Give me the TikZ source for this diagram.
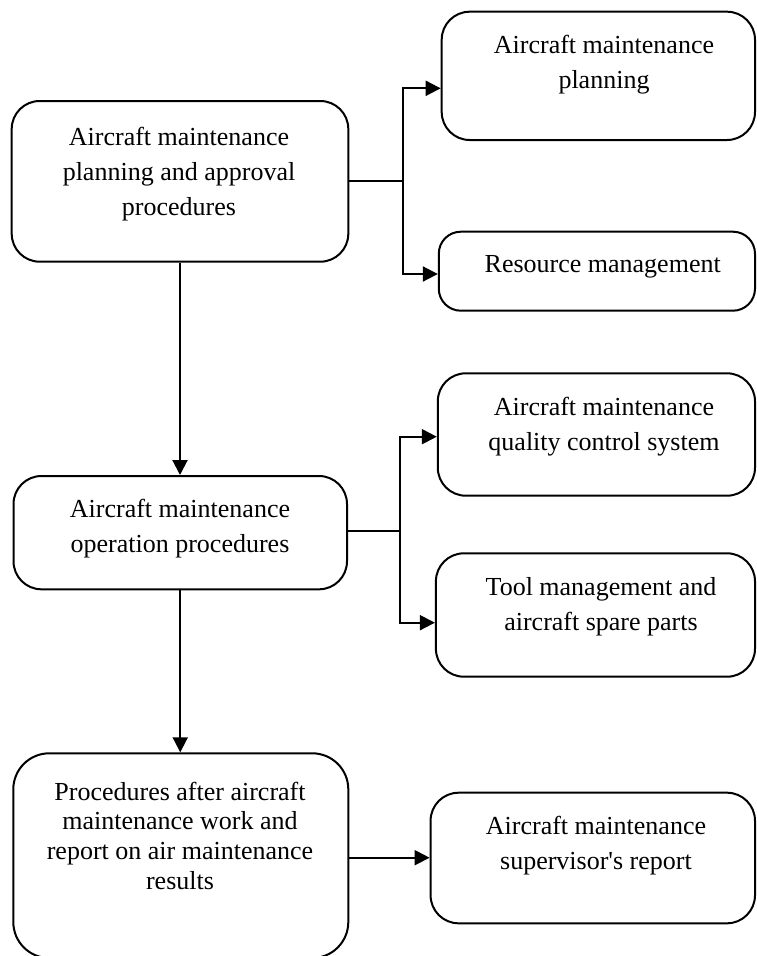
\documentclass[tikz,border=0pt]{standalone}
\usepackage{fontspec}
\setmainfont{Liberation Serif}[Ligatures=TeXOff]
\usetikzlibrary{arrows.meta}
\newcommand\tlines[2]{\fontsize{26}{#1}\selectfont\begin{tabular}[t]{@{}c@{}}#2\end{tabular}}
\begin{document}
\begin{tikzpicture}[x=1pt,y=-1pt,
  box/.style={draw,line width=2pt,rounded corners=28pt,inner sep=0pt},
  txt/.style={anchor=base,inner sep=0pt},
  conn/.style={line width=2pt},
  arr/.style={line width=2pt,-{Triangle[length=15pt,width=15pt]}}]
\useasboundingbox (0,0) rectangle (756,956);
% boxes
\node[box,minimum width=336.6pt,minimum height=160.7pt] (A) at (180,181.35) {};
\node[box,minimum width=313.3pt,minimum height=128.3pt] (B) at (598.35,75.85) {};
\node[box,minimum width=316.2pt,minimum height=79pt,rounded corners=22pt] (C) at (596.9,271.2) {};
\node[box,minimum width=333.5pt,minimum height=113.3pt] (D) at (180.25,532.65) {};
\node[box,minimum width=317.2pt,minimum height=122.4pt] (E) at (596.4,434.5) {};
\node[box,minimum width=319.1pt,minimum height=123.4pt] (F) at (595.45,615) {};
\node[box,minimum width=335pt,minimum height=204.7pt,rounded corners=36pt] (G) at (180.8,855.65) {};
\node[box,minimum width=324.4pt,minimum height=130.6pt] (H) at (592.8,858) {};
% texts
\node[txt] (tA) at (179,145) {\tlines{35}{Aircraft maintenance\\planning and approval\\procedures}};
\node[txt] (tB) at (604,53.3) {\tlines{35}{Aircraft maintenance\\planning}};
\node[txt] (tC) at (602.7,272) {\tlines{35}{Resource management}};
\node[txt] (tD) at (180,517.3) {\tlines{35}{Aircraft maintenance\\operation procedures}};
\node[txt] (tE) at (604,415.7) {\tlines{34.3}{Aircraft maintenance\\quality control system}};
\node[txt] (tF) at (601,595) {\tlines{35}{Tool management and\\aircraft spare parts}};
\node[txt] (tG) at (180,800) {\tlines{29.7}{Procedures after aircraft\\maintenance work and\\report on air maintenance\\results}};
\node[txt] (tH) at (596,834) {\tlines{35}{Aircraft maintenance\\supervisor's report}};
% connectors
\coordinate (ja) at (403,181.35);
\coordinate (yB) at (0,88.3);
\coordinate (yC) at (0,274);
\coordinate (jd) at (400,531);
\coordinate (yE) at (0,436.7);
\coordinate (yF) at (0,622.7);
\coordinate (yH) at (0,857.7);
\draw[arr] (A.south) -- (A.south |- D.north);
\draw[conn] (A.east) -- (ja);
\draw[arr] (ja) |- (B.west |- yB);
\draw[arr] (ja) |- (C.west |- yC);
\draw[arr] (D.south) -- (D.south |- G.north);
\draw[conn] (D.east |- jd) -- (jd);
\draw[arr] (jd) |- (E.west |- yE);
\draw[arr] (jd) |- (F.west |- yF);
\draw[arr] (G.east |- yH) -- (H.west |- yH);
\end{tikzpicture}
\end{document}
